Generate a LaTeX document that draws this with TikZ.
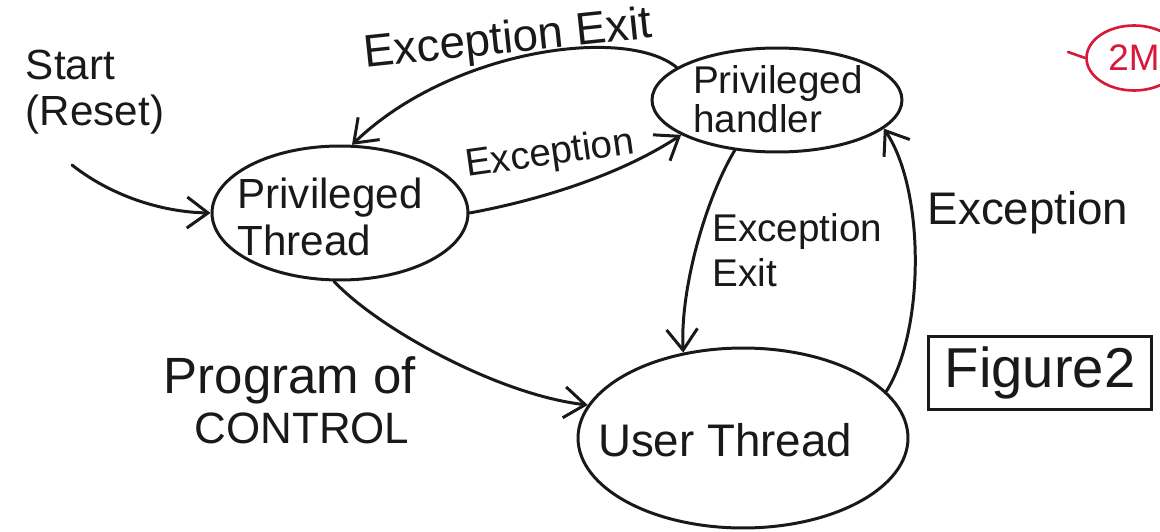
\documentclass[tikz,border=0pt]{standalone}
\usepackage{fontspec}
\setmainfont{Liberation Sans}
\usetikzlibrary{shapes.geometric,arrows.meta}
\definecolor{ink}{RGB}{25,25,25}
\definecolor{markred}{RGB}{215,25,60}
\begin{document}
\begin{tikzpicture}[x=0.02cm,y=-0.02cm,
  inkline/.style={line width=1.7pt, draw=ink},
  st/.style={ellipse, inkline, inner sep=0pt},
  lbl/.style={text=ink, inner sep=0pt},
  arr/.style={inkline, line cap=round, -{Straight Barb[length=0.42cm,width=0.62cm]}}]
\clip (0,0) rectangle (1160,531);
\fill[white] (0,0) rectangle (1160,531);

% states
\node[st, minimum width=5.12cm, minimum height=2.68cm] (pt) at (340,213) {};
\node[st, minimum width=5cm, minimum height=2.08cm] (ph) at (777,100) {};
\node[st, minimum width=6.6cm, minimum height=3.6cm] (ut) at (743,438) {};

\node[lbl, align=left, font=\fontsize{24}{27}\selectfont] (ptt) at (330,217) {Privileged\\Thread};
\node[lbl, align=left, font=\fontsize{22}{22}\selectfont] (pht) at (778,99) {Privileged\\handler};
\node[lbl, font=\fontsize{26}{28}\selectfont] (utt) at (725,440) {User Thread};

% labels
\node[lbl, align=left, font=\fontsize{24}{26}\selectfont] (start) at (95,92) {Start\\(Reset)};
\node[lbl, rotate=6, font=\fontsize{26}{28}\selectfont] (ee1) at (508,41) {Exception Exit};
\node[lbl, rotate=8, font=\fontsize{22}{24}\selectfont] (ex1) at (550,155) {Exception};
\node[lbl, align=left, anchor=west, font=\fontsize{22}{25.5}\selectfont] (ee2) at (712,250) {Exception\\Exit};
\node[lbl, font=\fontsize{26}{28}\selectfont] (ex2) at (1028,213) {Exception};
\node[lbl, font=\fontsize{29}{30}\selectfont] (prog) at (290,380) {Program of};
\node[lbl, font=\fontsize{25}{26}\selectfont] (ctrl) at (302,428) {CONTROL};

\node[lbl, draw=ink, line width=1.7pt, minimum width=4.48cm, minimum height=1.46cm,
      font=\fontsize{32}{34}\selectfont] (fig) at (1040,373) {Figure2};

% red mark
\node[ellipse, draw=markred, line width=1.5pt, minimum width=1.9cm, minimum height=1.3cm,
      inner sep=0pt, text=markred, font=\fontsize{21}{21}\selectfont] (m2) at (1134,58) {2M};
\coordinate (md) at (1068,52);
\draw[markred, line width=1.5pt, line cap=round] (md) -- (m2.west);

% connectors
\coordinate (s0) at (72,165);
\draw[arr] (s0) .. controls (110,195) and (160,212) .. (pt.west);
\draw[arr] (pt.east) .. controls (540,200) and (620,175) .. (ph.200);
\draw[arr] (ph.162) .. controls (625,25) and (450,50) .. (pt.80);
\draw[arr] (ph.230) .. controls (705,200) and (680,290) .. (ut.125);
\draw[arr] (ut.18) .. controls (925,330) and (925,190) .. (ph.345);
\draw[arr] (pt.265) .. controls (380,330) and (500,395) .. (ut.168);
\end{tikzpicture}
\end{document}
